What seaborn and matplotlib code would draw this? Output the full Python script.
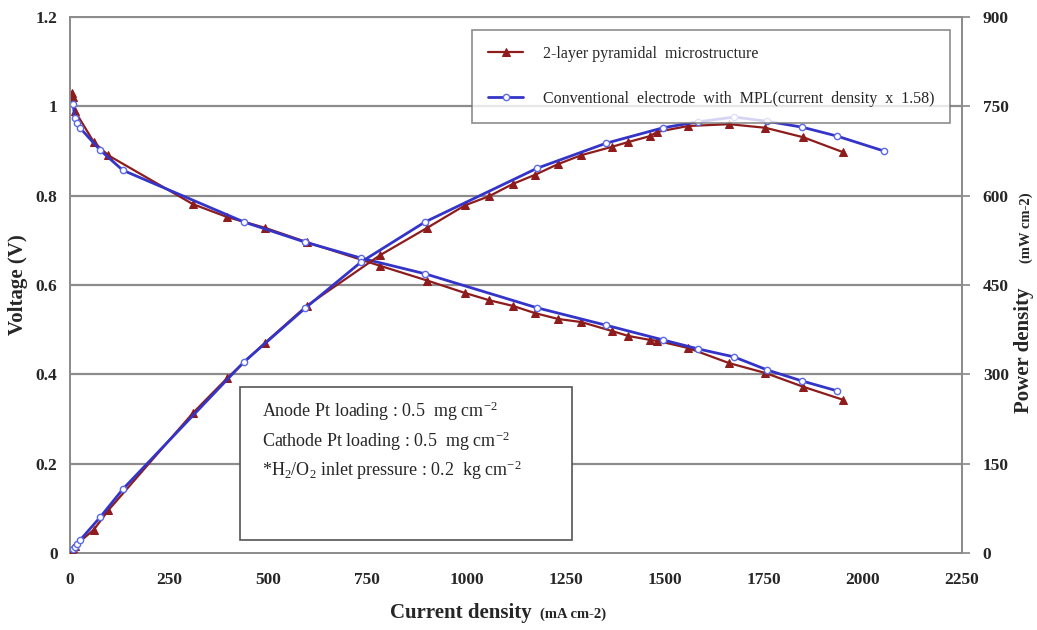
import numpy as np
import pandas as pd
import matplotlib
matplotlib.use("Agg")
import matplotlib.pyplot as plt
import seaborn as sns
from matplotlib.patches import Rectangle
from matplotlib.ticker import FuncFormatter, MultipleLocator

# ---- data -------------------------------------------------------------
# 2-layer pyramidal microstructure
pyr_current = [5, 8, 12, 60, 97, 310, 397, 492, 597, 782, 901, 997, 1057, 1118,
               1173, 1231, 1290, 1367, 1408, 1463, 1481, 1559, 1663, 1754, 1850, 1950]
pyr_voltage = [1.03, 1.02, 0.99, 0.92, 0.89, 0.781, 0.752, 0.728, 0.696, 0.643,
               0.61, 0.582, 0.566, 0.553, 0.537, 0.524, 0.517, 0.497, 0.486, 0.477,
               0.475, 0.459, 0.425, 0.403, 0.372, 0.343]
pyr_power = [5, 8, 12, 39, 72, 235, 294, 353, 415, 500, 546, 584, 599, 620, 635,
             653, 668, 682, 690, 700, 707, 717, 720, 714, 698, 673]

# Conventional electrode with MPL (current density scaled x 1.58)
mpl_current_v = [8, 12, 18, 26, 76, 133, 439, 593, 735, 896, 1178, 1352, 1496,
                 1584, 1675, 1758, 1847, 1935]
mpl_voltage = [1.005, 0.974, 0.963, 0.951, 0.902, 0.857, 0.741, 0.696, 0.660,
               0.625, 0.549, 0.510, 0.477, 0.457, 0.439, 0.410, 0.385, 0.363]
mpl_current_p = [8, 12, 18, 26, 76, 133, 439, 593, 735, 896, 1178, 1352, 1496,
                 1584, 1675, 1758, 1847, 1935, 2053]
mpl_power = [6, 10, 15, 22, 60, 107, 321, 411, 489, 556, 646, 688, 714, 724, 732,
             725, 715, 700, 675]

series_labels = ["2-layer pyramidal  microstructure",
                 "Conventional  electrode  with  MPL(current  density  x  1.58)"]
note_lines = [r"Anode Pt loading : 0.5  mg cm$^{-2}$",
              r"Cathode Pt loading : 0.5  mg cm$^{-2}$",
              r"*H$_2$/O$_2$ inlet pressure : 0.2  kg cm$^{-2}$"]

# ---- style ------------------------------------------------------------
sns.set_theme(style="white")
plt.rcParams["font.family"] = ["Liberation Serif", "DejaVu Serif"]
plt.rcParams["mathtext.fontset"] = "custom"
plt.rcParams["mathtext.rm"] = "Liberation Serif"
plt.rcParams["mathtext.it"] = "Liberation Serif:italic"
plt.rcParams["mathtext.bf"] = "Liberation Serif:bold"

RED = "#8e1c1c"
BLUE = "#3434c8"
GRID = "#8c8c8c"

W, H = 1037, 630
fig = plt.figure(figsize=(W / 100, H / 100), dpi=100)
L, R, T, B = 70, 962, 17, 553
ax = fig.add_axes([L / W, 1 - B / H, (R - L) / W, (B - T) / H])
ax2 = ax.twinx()

pyr_v = pd.DataFrame({"current": pyr_current, "value": pyr_voltage})
pyr_p = pd.DataFrame({"current": pyr_current, "value": pyr_power})
mpl_v = pd.DataFrame({"current": mpl_current_v, "value": mpl_voltage})
mpl_p = pd.DataFrame({"current": mpl_current_p, "value": mpl_power})

red_kw = dict(color=RED, marker="^", markersize=5.5, markeredgecolor=RED,
              linewidth=1.6, sort=False)
blue_kw = dict(color=BLUE, marker="o", markersize=4.5, markerfacecolor="white",
               markeredgecolor="#5a6ae6", markeredgewidth=1.0, linewidth=2.0,
               sort=False)

sns.lineplot(data=pyr_v, x="current", y="value", ax=ax, label=series_labels[0],
             zorder=4, **red_kw)
sns.lineplot(data=mpl_v, x="current", y="value", ax=ax, label=series_labels[1],
             zorder=5, **blue_kw)
sns.lineplot(data=pyr_p, x="current", y="value", ax=ax2, legend=False,
             zorder=4, **red_kw)
sns.lineplot(data=mpl_p, x="current", y="value", ax=ax2, legend=False,
             zorder=5, **blue_kw)

# ---- axes -------------------------------------------------------------
ax.set_xlim(0, 2250)
ax.set_ylim(0, 1.2)
ax2.set_ylim(0, 900)
ax.xaxis.set_major_locator(MultipleLocator(250))
ax.yaxis.set_major_locator(MultipleLocator(0.2))
ax2.yaxis.set_major_locator(MultipleLocator(150))
ax.yaxis.set_major_formatter(FuncFormatter(lambda v, p: f"{v:g}"))
ax.set_xlabel("")
ax.set_ylabel("")
ax2.set_ylabel("")

ax.grid(False)
ax2.grid(False)
for yv in np.arange(0.2, 1.21, 0.2):
    ax.axhline(yv, color=GRID, linewidth=1.6, zorder=0)

for a in (ax, ax2):
    for s in a.spines.values():
        s.set_color(GRID)
        s.set_linewidth(1.3)

ax.tick_params(axis="x", direction="in", length=3, color=GRID, pad=14,
               labelsize=12.5)
ax.tick_params(axis="y", length=0, pad=9, labelsize=12.5)
ax2.tick_params(axis="y", direction="out", length=6, color=GRID, pad=9,
                labelsize=12.5)
for lab in ax.get_xticklabels() + ax.get_yticklabels() + ax2.get_yticklabels():
    lab.set_fontweight("bold")

# ---- axis titles ------------------------------------------------------
fig.text(18 / W, 1 - 285 / H, "Voltage (V)", rotation=90, ha="center",
         va="center", fontsize=15, fontweight="bold")
fig.text(532 / W, 1 - 613 / H, "Current density", ha="right", va="center",
         fontsize=15, fontweight="bold")
fig.text(540 / W, 1 - 614 / H, "(mA cm-2)", ha="left", va="center",
         fontsize=10.5, fontweight="bold")
fig.text(1024 / W, 1 - 350 / H, "Power density", rotation=90, ha="center",
         va="center", fontsize=15, fontweight="bold")
fig.text(1026 / W, 1 - 228 / H, "(mW cm-2)", rotation=90, ha="center",
         va="center", fontsize=10.5, fontweight="bold")

# ---- legend -----------------------------------------------------------
handles, labels = ax.get_legend_handles_labels()
leg = ax2.legend(handles, labels, loc="upper right",
                 bbox_to_anchor=((950 - L) / (R - L), (B - 30) / (B - T)),
                 fontsize=11.5, frameon=True, fancybox=False,
                 labelspacing=1.8, handlelength=2.2, handletextpad=1.2,
                 borderpad=1.0, borderaxespad=0)
leg.get_frame().set_edgecolor("#707070")
leg.get_frame().set_linewidth(1.2)
leg.set_zorder(10)
if ax.get_legend() is not None:
    ax.get_legend().remove()

# ---- conditions box ---------------------------------------------------
bx0, bx1 = (240 - L) / (R - L), (572 - L) / (R - L)
by0, by1 = (B - 540) / (B - T), (B - 387) / (B - T)
ax2.add_patch(Rectangle((bx0, by0), bx1 - bx0, by1 - by0, transform=ax2.transAxes,
                        facecolor="white", edgecolor="#555555", linewidth=1.2,
                        zorder=8))
for ypix, line in zip([411, 441, 470], note_lines):
    ax2.text((262 - L) / (R - L), (B - ypix) / (B - T), line,
             transform=ax2.transAxes, ha="left", va="center", fontsize=13,
             zorder=9)

fig.savefig("out.png", dpi=100)
